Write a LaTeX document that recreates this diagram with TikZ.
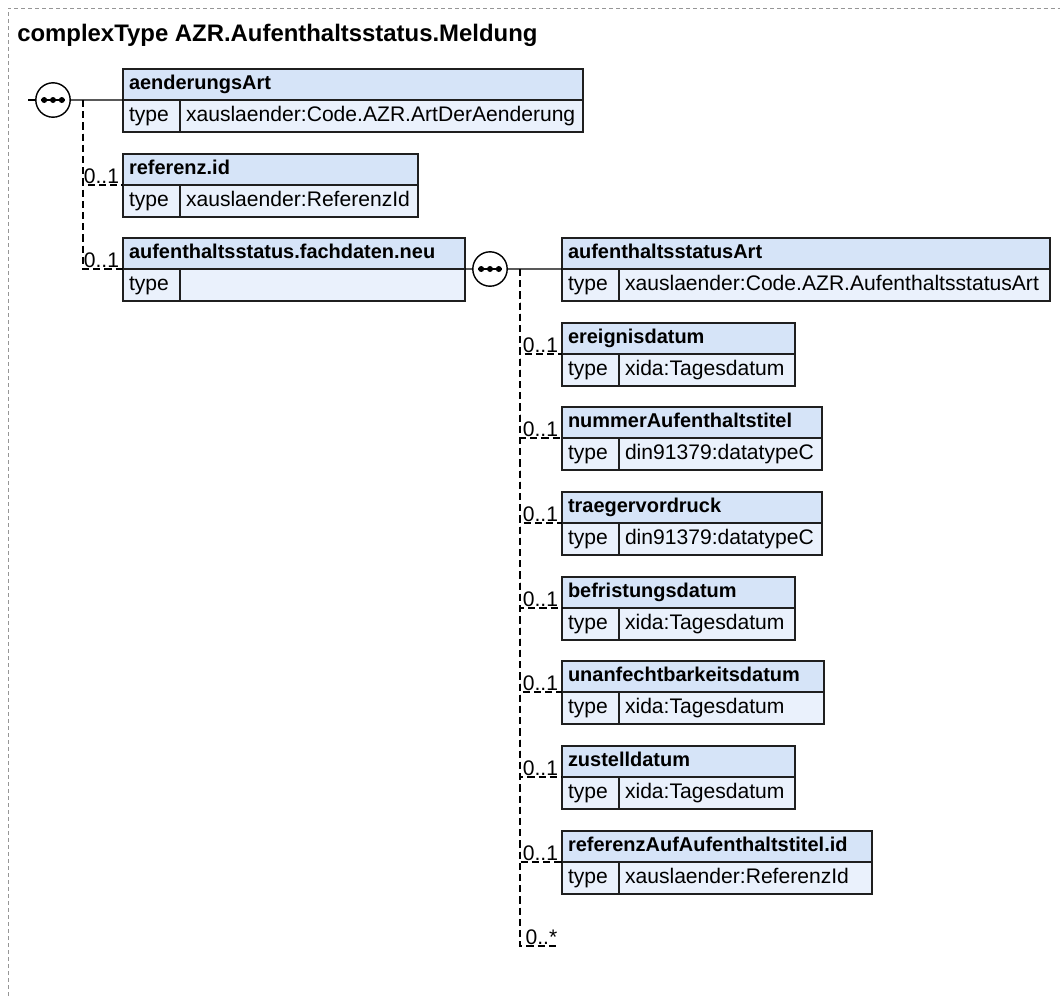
\documentclass[tikz,border=0pt]{standalone}
\usepackage{fontspec}
\setmainfont{Liberation Sans}
\usetikzlibrary{positioning}
\definecolor{hdrblue}{RGB}{214,228,248}
\definecolor{rowblue}{RGB}{234,241,252}
\definecolor{framegray}{RGB}{150,150,150}
\tikzset{
  cell/.style={draw=black!88, line width=1.1pt, outer sep=0pt, inner xsep=0.15cm, inner ysep=0pt, align=left,
    text height=11pt, text depth=3.5pt, font={\fontsize{15}{18}\selectfont\hyphenpenalty=10000\relax}},
  hdr/.style={cell, fill=hdrblue, minimum height=0.775cm, font={\fontsize{14.2}{17}\selectfont\bfseries\hyphenpenalty=10000\relax}},
  typekey/.style={cell, fill=rowblue, minimum height=0.8cm, text width=1.125cm},
  typeval/.style={cell, fill=rowblue, minimum height=0.8cm},
  seq/.style={circle, draw, line width=1pt, fill=white, minimum size=0.86cm, inner sep=0pt, outer sep=0pt,
    path picture={
      \draw[black, line width=1pt] ([xshift=-0.3cm]path picture bounding box.center) -- ([xshift=0.3cm]path picture bounding box.center);
      \foreach \d in {-0.22,0,0.22}
        \fill[black] ([xshift=\d cm]path picture bounding box.center) circle (0.075cm);
    }},
  conn/.style={line width=1pt},
  optconn/.style={line width=1.1pt, dash pattern=on 0.18cm off 0.1cm},
  card/.style={font=\fontsize{15}{18}\selectfont, inner xsep=0.1cm, inner ysep=0.04cm, outer sep=0pt},
  frame/.style={framegray, line width=0.6pt, dash pattern=on 0.1cm off 0.075cm},
  heading/.style={font=\fontsize{17}{20}\selectfont\bfseries, inner sep=0pt}
}

\begin{document}
\begin{tikzpicture}[x=0.025cm, y=-0.025cm, node distance=0pt]
  \useasboundingbox (0,0) rectangle (1060,996);
  \draw[frame] (8,996) -- (8,8) -- (1060,8);
  \node[heading, anchor=base west] (ttl) at (17,41) {complexType AZR.Aufenthaltsstatus.Meldung};

  % elements: name/x/y/width/title/type
  \foreach \nm/\xx/\yy/\bw/\ttl/\typ in {
    aend/123/69/460/aenderungsArt/xauslaender:Code.AZR.ArtDerAenderung,
    ref/123/154/295/referenz.id/xauslaender:ReferenzId,
    fach/123/238/342/aufenthaltsstatus.fachdaten.neu/{},
    art/562/238/488/aufenthaltsstatusArt/xauslaender:Code.AZR.AufenthaltsstatusArt,
    ereig/562/323/233/ereignisdatum/xida:Tagesdatum,
    numm/562/407/260/nummerAufenthaltstitel/din91379:datatypeC,
    traeg/562/492/260/traegervordruck/din91379:datatypeC,
    befr/562/577/233/befristungsdatum/xida:Tagesdatum,
    unan/562/661/262/unanfechtbarkeitsdatum/xida:Tagesdatum,
    zust/562/746/233/zustelldatum/xida:Tagesdatum,
    refa/562/831/310/referenzAufAufenthaltstitel.id/xauslaender:ReferenzId}
  {
    \pgfmathsetmacro\tw{(\bw-12)*0.025}
    \pgfmathsetmacro\vw{(\bw-57-12)*0.025}
    \node[hdr, text width=\tw cm, anchor=north west] (\nm-h) at (\xx,\yy) {\ttl};
    \node[typekey, below right=of \nm-h.south west] (\nm-k) {type};
    \node[typeval, text width=\vw cm, right=of \nm-k] (\nm-v) {\typ};
  }

  % sequences
  \node[seq] (s1) at (53,100) {};
  \node[seq] (s2) at (490,269) {};
  \coordinate (stub) at (28,100);
  \coordinate (j1) at (83,100);
  \coordinate (j2) at (520,269);
  \coordinate (rest) at (558,946);

  \draw[conn] (stub) -- (s1);
  \draw[conn] (s1) -- (aend-h.south west);
  \draw[conn] (fach-h.south east) -- (s2);
  \draw[conn] (s2) -- (art-h.south west);

  \foreach \nm in {ref,fach}
    \draw[optconn] (j1) |- (\nm-h.south west);
  \foreach \nm in {ereig,numm,traeg,befr,unan,zust,refa}
    \draw[optconn] (j2) |- (\nm-h.south west);
  \draw[optconn] (j2) |- (rest);

  \foreach \nm in {ref,fach,ereig,numm,traeg,befr,unan,zust,refa}
    \node[card, anchor=south east] (\nm-c) at (\nm-h.south west) {0..1};
  \node[card, anchor=south east] (rest-c) at ([xshift=0.08cm]rest) {0..*};
\end{tikzpicture}
\end{document}
